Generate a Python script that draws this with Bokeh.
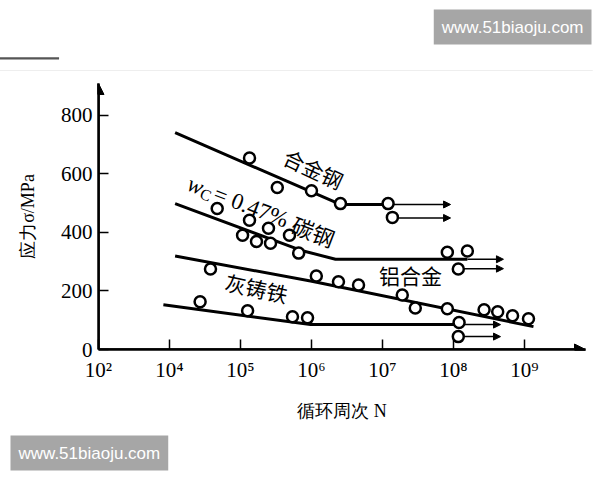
import math
from bokeh.plotting import figure
from bokeh.models import Range1d, FixedTicker, Arrow, NormalHead, Label, Title
from bokeh.embed import file_html
from bokeh.resources import INLINE

# ---------------- data ----------------
x_tick_values = [1e3, 1e4, 1e5, 1e6, 1e7, 1e8, 1e9]
x_tick_labels = ["10²", "10⁴", "10⁵", "10⁶", "10⁷", "10⁸", "10⁹"]
y_tick_values = [0, 200, 400, 600, 800]

# 合金钢 (alloy steel)
alloy_line_N = [1.2e4, 2.55e6, 1.2e7]
alloy_line_S = [740, 495, 495]
alloy_pts_N = [1.34e5, 3.3e5, 1.0e6, 2.56e6, 1.2e7, 1.38e7]
alloy_pts_S = [654, 553, 542, 498, 498, 451]
alloy_runout_N = [1.2e7, 1.38e7]
alloy_runout_S = [495, 449]
alloy_runout_end = 9.1e7

# wC = 0.47% 碳钢 (carbon steel)
carbon_line_N = [1.2e4, 7.0e5, 2.18e6, 1.57e8]
carbon_line_S = [498, 339, 308, 308]
carbon_pts_N = [4.7e4, 1.34e5, 1.07e5, 1.68e5, 2.48e5, 2.65e5, 4.9e5, 6.6e5, 8.2e7, 1.57e8, 1.17e8]
carbon_pts_S = [481, 441, 390, 369, 414, 363, 390, 329, 332, 336, 275]
carbon_runout_N = [1.57e8, 1.17e8]
carbon_runout_S = [308, 276]
carbon_runout_end = 5.06e8

# 铝合金 (aluminium alloy)
alu_line_N = [1.2e4, 9.7e5, 1.34e9]
alu_line_S = [319, 234, 78]
alu_pts_N = [3.78e4, 1.17e6, 2.4e6, 4.6e6, 1.9e7, 2.9e7, 8.2e7, 2.7e8, 4.2e8, 6.8e8, 1.14e9]
alu_pts_S = [275, 251, 231, 220, 186, 142, 139, 136, 129, 115, 105]

# 灰铸铁 (grey cast iron)
iron_line_N = [8.2e3, 9.7e5, 1.2e8]
iron_line_S = [153, 85, 85]
iron_pts_N = [2.7e4, 1.26e5, 5.4e5, 8.8e5, 1.2e8, 1.17e8]
iron_pts_S = [163, 132, 112, 108, 92, 44]
iron_runout_N = [1.2e8, 1.17e8]
iron_runout_S = [85, 44]
iron_runout_end = 4.6e8

watermark_text = "www.51biaoju.com"

SERIF = "Liberation Serif"
CJK = "Noto Sans CJK SC"

p = figure(width=600, height=480, x_axis_type="log",
           x_range=Range1d(1e3, 10 ** 9.86), y_range=Range1d(0, 908),
           output_backend="svg", toolbar_location=None,
           min_border_left=98, min_border_right=15,
           min_border_top=82, min_border_bottom=130)
p.xgrid.visible = False
p.ygrid.visible = False
p.outline_line_color = None
p.background_fill_color = "white"
p.border_fill_color = "white"

p.xaxis.ticker = FixedTicker(ticks=x_tick_values)
p.xaxis.major_label_overrides = dict(zip(x_tick_values, x_tick_labels))
p.yaxis.ticker = FixedTicker(ticks=y_tick_values)
p.xaxis.axis_label = "循环周次 N"
p.yaxis.axis_label = "应力σ/MPa"
for ax in (p.xaxis[0], p.yaxis[0]):
    ax.axis_line_width = 2.5
    ax.axis_line_color = "black"
    ax.major_tick_in = 10
    ax.major_tick_out = 0
    ax.major_tick_line_width = 1.5
    ax.major_tick_line_color = "black"
    ax.minor_tick_line_color = None
    ax.major_label_text_font = SERIF
    ax.major_label_text_font_size = "21px"
    ax.major_label_text_color = "black"
    ax.axis_label_text_font = SERIF
    ax.axis_label_text_font_style = "normal"
    ax.axis_label_text_font_size = "18px"
    ax.axis_label_text_color = "black"
p.xaxis.major_label_standoff = 8
p.yaxis.major_label_standoff = 6
p.xaxis.axis_label_standoff = 16
p.yaxis.axis_label_standoff = 20

# page decorations in the top panel (stacked outward from the frame)
p.add_layout(Title(text=" ", standoff=0, text_font_size="5px"), "above")            # spacer
p.add_layout(Title(text=" ", standoff=9, text_font_size="1px", align="left", offset=-106,
                   background_fill_color="#eeeeee",
                   padding=dict(left=0, right=600, top=0, bottom=0)), "above")           # faint rule
p.add_layout(Title(text=" ", standoff=8, text_font_size="2px", align="left", offset=-106,
                   background_fill_color="#555555",
                   padding=dict(left=0, right=66, top=0, bottom=0)), "above")            # short rule
p.add_layout(Title(text=watermark_text, align="right", offset=-6, standoff=14,
                   text_font="Liberation Sans", text_font_style="normal", text_font_size="17px",
                   text_color="white", background_fill_color="#a6a6a6", padding=8), "above")
p.add_layout(Title(text=watermark_text, align="left", offset=-88, standoff=20,
                   text_font="Liberation Sans", text_font_style="normal", text_font_size="17px",
                   text_color="white", background_fill_color="#a6a6a6", padding=8), "below")

# axis arrows
p.add_layout(Arrow(end=NormalHead(size=11, fill_color="black", line_color="black"),
                   x_start=x_tick_values[0], y_start=0, x_end=p.x_range.end, y_end=0,
                   line_width=2.5, line_color="black"))
p.add_layout(Arrow(end=NormalHead(size=11, fill_color="black", line_color="black"),
                   x_start=x_tick_values[0], y_start=0, x_end=x_tick_values[0], y_end=p.y_range.end,
                   line_width=2.5, line_color="black"))

# runout arrows
for starts, ss, end in ((alloy_runout_N, alloy_runout_S, alloy_runout_end),
                        (carbon_runout_N, carbon_runout_S, carbon_runout_end),
                        (iron_runout_N, iron_runout_S, iron_runout_end)):
    for n0, s0 in zip(starts, ss):
        p.add_layout(Arrow(end=NormalHead(size=7, fill_color="black", line_color="black"),
                           x_start=n0, y_start=s0, x_end=end, y_end=s0,
                           line_width=1.5, line_color="black", level="underlay"))

for ln, ls in ((alloy_line_N, alloy_line_S), (carbon_line_N, carbon_line_S),
               (alu_line_N, alu_line_S), (iron_line_N, iron_line_S)):
    p.line(ln, ls, line_width=3, line_color="black")

for pn, ps in ((alloy_pts_N, alloy_pts_S), (carbon_pts_N, carbon_pts_S),
               (alu_pts_N, alu_pts_S), (iron_pts_N, iron_pts_S)):
    p.scatter(pn, ps, marker="circle", size=11, fill_color="white",
              line_color="black", line_width=2.5)

# curve labels
p.add_layout(Label(x=1.07e6, y=617, text="合金钢", angle=-25, angle_units="deg",
                   text_font=CJK, text_font_size="21px", text_align="center",
                   text_baseline="middle", text_color="black"))
p.add_layout(Label(x=2.48e7, y=254, text="铝合金", text_font=CJK, text_font_size="21px",
                   text_align="center", text_baseline="middle", text_color="black"))
p.add_layout(Label(x=1.68e5, y=210, text="灰铸铁", angle=-12, angle_units="deg",
                   text_font=CJK, text_font_size="21px", text_align="center",
                   text_baseline="middle", text_color="black"))

# wC = 0.47% 碳钢 (pieces along a rotated baseline)
th = math.radians(-21)
ux, uy = math.cos(th), math.sin(th)
dx, dy = math.sin(th), -math.cos(th)   # "down" relative to text
pieces = [("w", SERIF, "italic", "23px", 0, 0),
          ("C", SERIF, "normal", "16px", 15, 5),
          (" = 0.47%", SERIF, "normal", "23px", 28, 0),
          ("碳钢", CJK, "normal", "22px", 112, 0)]
for txt, font, style, size, d, down in pieces:
    p.add_layout(Label(x=1.85e4, y=569, text=txt, angle=-21, angle_units="deg",
                       x_offset=d * ux + down * dx, y_offset=d * uy + down * dy,
                       text_font=font, text_font_style=style, text_font_size=size,
                       text_align="left", text_baseline="alphabetic", text_color="black"))

open("out.html", "w").write(file_html(p, INLINE))
